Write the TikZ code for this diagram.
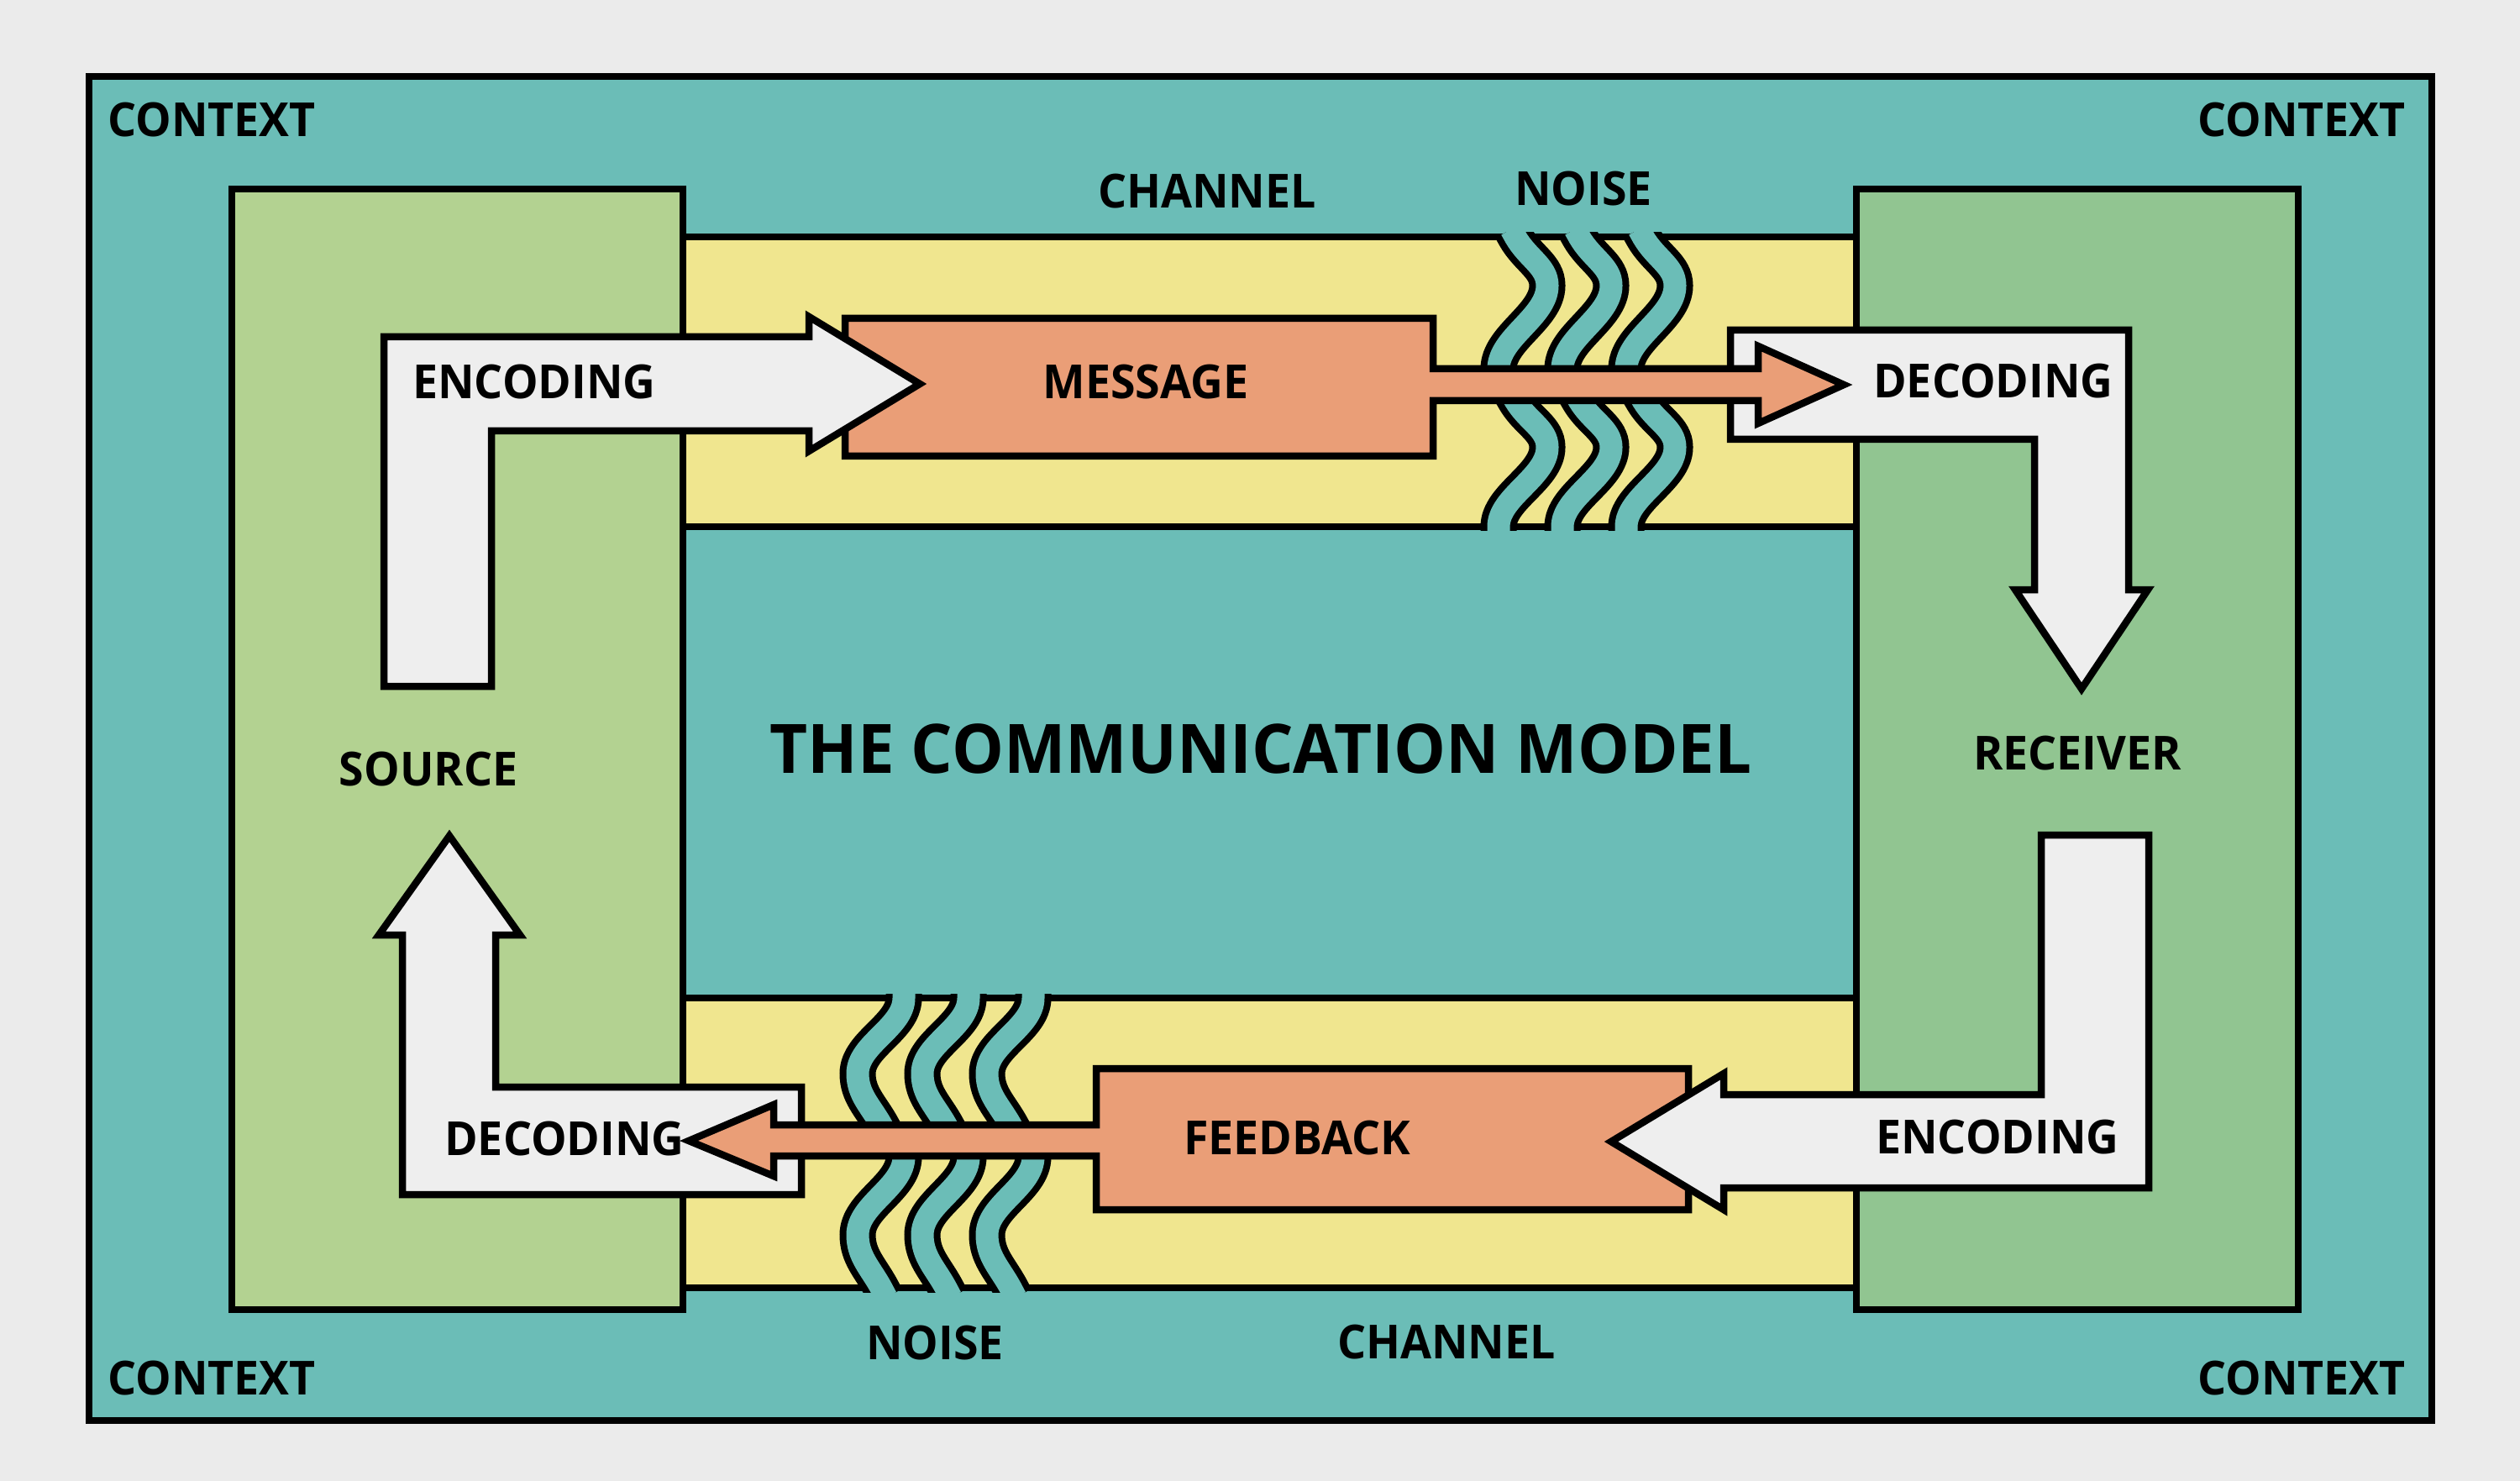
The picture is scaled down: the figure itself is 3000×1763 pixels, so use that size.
\documentclass[tikz,border=0pt]{standalone}
\usepackage{fontspec}
\setmainfont{Open Sans}[FakeStretch=0.96]
\definecolor{paper}{HTML}{EBEBEB}
\definecolor{ctx}{HTML}{6BBDB7}
\definecolor{srcg}{HTML}{B3D291}
\definecolor{rcvg}{HTML}{91C591}
\definecolor{chan}{HTML}{F0E68F}
\definecolor{msg}{HTML}{EA9E77}
\definecolor{arw}{HTML}{EEEEEE}
\newcommand\bandR[3]{%
  \begin{scope}[shift={(#1,#2)},yscale=#3]
    \draw[noiseband] (-5,-9) -- (0,0) .. controls (15,26) and (38,35) .. (38,58)
      .. controls (38,95) and (-20,120) .. (-20,157) -- (-20,175);
  \end{scope}}
\newcommand\bandL[3]{%
  \begin{scope}[shift={(#1,#2)},yscale=#3]
    \draw[noiseband] (0,-12) -- (0,0) .. controls (0,35) and (-55,55) .. (-55,90)
      .. controls (-55,115) and (-40,128) .. (-27,151) -- (-21,162);
  \end{scope}}
\begin{document}
\begin{tikzpicture}[x=0.1mm,y=-0.1mm,
  outl/.style={draw=black,line width=0.85mm,line join=miter},
  noiseband/.style={draw=black,line width=0.8mm,double=ctx,double distance=2.7mm},
  lbl/.style={font=\fontsize{15.9pt}{18pt}\selectfont\bfseries,inner sep=0pt,text=black},
  ttl/.style={font=\fontsize{23.1pt}{26pt}\selectfont\bfseries,inner sep=0pt,text=black}]
\useasboundingbox (0,0) rectangle (3000,1763);
\fill[paper] (0,0) rectangle (3000,1763);
% context frame
\draw[outl,fill=ctx] (106,91) rectangle (2895,1691);
% channels
\draw[outl,fill=chan] (813,282) rectangle (2210,627);
\draw[outl,fill=chan] (813,1188) rectangle (2210,1533);
% source and receiver
\draw[outl,fill=srcg] (276,225) rectangle (813,1559);
\draw[outl,fill=rcvg] (2210,225) rectangle (2736,1559);
% noise, top channel
\begin{scope}
  \clip (1700,277) rectangle (2100,632);
  \foreach \x in {1804,1880,1956} {\bandR{\x}{282}{1}\bandR{\x}{477}{0.955}}
\end{scope}
% noise, bottom channel
\begin{scope}
  \clip (900,1183) rectangle (1300,1538);
  \foreach \x in {1076,1153,1230} {\bandL{\x}{1188}{1}\bandL{\x}{1377}{1.033}}
\end{scope}
% top arrows
\draw[outl,fill=arw] (2060,393) -- (2534,393) -- (2534,702) -- (2557,702) -- (2478,820)
  -- (2399,702) -- (2422,702) -- (2422,523) -- (2060,523) -- cycle;
\draw[outl,fill=msg] (1006,379) -- (1706,379) -- (1706,439) -- (2093,439) -- (2093,412)
  -- (2195,458) -- (2093,504) -- (2093,477) -- (1706,477) -- (1706,543) -- (1006,543) -- cycle;
\draw[outl,fill=arw] (457,817) -- (457,401) -- (963,401) -- (963,377) -- (1095,457)
  -- (963,537) -- (963,513) -- (585,513) -- (585,817) -- cycle;
% bottom arrows
\draw[outl,fill=arw] (479,1422) -- (479,1113) -- (451,1113) -- (535,995) -- (619,1113)
  -- (590,1113) -- (590,1294) -- (954,1294) -- (954,1422) -- cycle;
\draw[outl,fill=msg] (2010,1272) -- (2010,1440) -- (1305,1440) -- (1305,1376) -- (921,1376)
  -- (921,1400) -- (820,1358) -- (921,1315) -- (921,1339) -- (1305,1339) -- (1305,1272) -- cycle;
\draw[outl,fill=arw] (2430,994) -- (2558,994) -- (2558,1414) -- (2052,1414) -- (2052,1440)
  -- (1918,1359) -- (2052,1278) -- (2052,1303) -- (2430,1303) -- cycle;
% labels
\node[lbl] (ctxtl) at (252,143) {CONTEXT};
\node[lbl] (ctxtr) at (2740,143) {CONTEXT};
\node[lbl] (ctxbl) at (252,1640) {CONTEXT};
\node[lbl] (ctxbr) at (2740,1640) {CONTEXT};
\node[lbl] (chtop) at (1437,228) {CHANNEL};
\node[lbl] (nstop) at (1885,225) {NOISE};
\node[lbl] (nsbot) at (1113,1598) {NOISE};
\node[lbl] (chbot) at (1722,1598) {CHANNEL};
\node[lbl] (enctl) at (636,455) {ENCODING};
\node[lbl] (message) at (1364,455) {MESSAGE};
\node[lbl] (dectr) at (2373,454) {DECODING};
\node[lbl] (source) at (510,916) {SOURCE};
\node[lbl] (receiver) at (2473,897) {RECEIVER};
\node[ttl] (title) at (1501,891) {THE COMMUNICATION MODEL};
\node[lbl] (decbl) at (672,1356) {DECODING};
\node[lbl] (feedback) at (1544,1355) {FEEDBACK};
\node[lbl] (encbr) at (2378,1354) {ENCODING};
\end{tikzpicture}
\end{document}
